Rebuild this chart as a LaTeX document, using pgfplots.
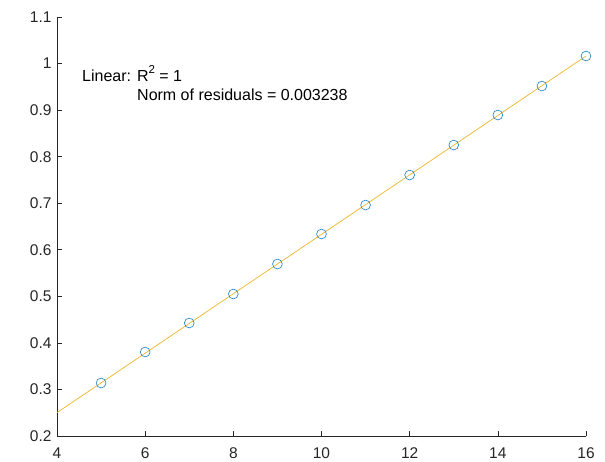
\documentclass[border=0pt]{standalone}
\usepackage{pgfplots}
\pgfplotsset{compat=1.18}
\usepackage{fontspec}
\setmainfont{Liberation Sans}
\definecolor{mblue}{rgb}{0,0.447,0.741}
\definecolor{myellow}{rgb}{0.929,0.694,0.125}
\definecolor{axgray}{rgb}{0.15,0.15,0.15}
\begin{document}
\begin{tikzpicture}
\useasboundingbox (-57pt,-26pt) rectangle (548pt,436pt);
\begin{axis}[
  at={(0,0)}, anchor=south west,
  scale only axis, width=529pt, height=419pt,
  xmin=4, xmax=16, ymin=0.2, ymax=1.1,
  axis lines=left,
  axis line style={axgray, -, line width=0.6pt},
  xtick={4,6,...,16},
  ytick={0.2,0.3,...,1.1},
  yticklabel style={/pgf/number format/fixed,/pgf/number format/precision=1, xshift=-2pt},
  xticklabel style={yshift=-8pt},
  tick style={axgray, line width=0.6pt},
  tick align=inside,
  major tick length=5pt,
  ticklabel style={font=\fontsize{15.5}{18}\selectfont, text=axgray},
  /pgf/number format/assume math mode=true,
  clip=false,
]
% linear fit
\addplot[myellow, line width=0.65pt] coordinates {(4,0.2502) (16,1.0162)};
% measured data
\addplot[only marks, mark=o, mark size=4.9pt, mblue!85, mark options={line width=0.65pt}] coordinates {
(5,0.3138) (6,0.3804) (7,0.4427) (8,0.5050) (9,0.5694) (10,0.6338)
(11,0.6961) (12,0.7606) (13,0.8250) (14,0.8894) (15,0.9517) (16,1.0162)
};
\node[anchor=west, font=\fontsize{16}{18}\selectfont, inner sep=0pt] at (axis cs:4.567,0.979) {Linear: R\raisebox{1.0ex}{\fontsize{11.5}{12}\selectfont 2} = 1};
\node[anchor=west, font=\fontsize{16}{18}\selectfont, inner sep=0pt] at (axis cs:5.815,0.932) {Norm of residuals = 0.003238};
\end{axis}
\end{tikzpicture}
\end{document}
